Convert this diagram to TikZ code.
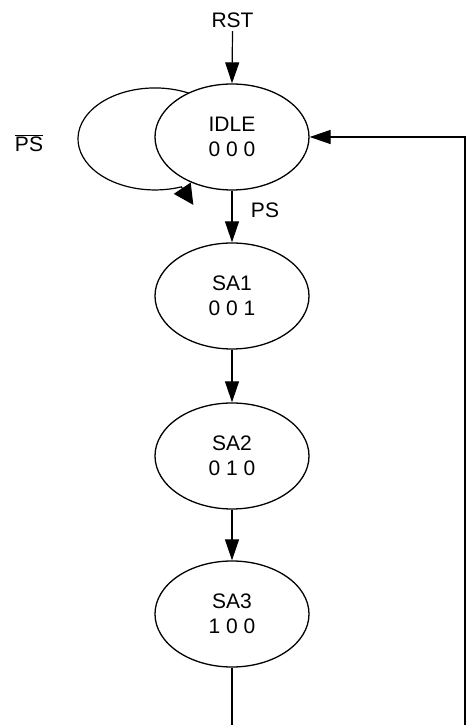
\documentclass[tikz,border=0pt]{standalone}
\usepackage{fontspec}
\setmainfont{Liberation Sans}
\usetikzlibrary{arrows.meta,shapes.geometric}
\begin{document}
\begin{tikzpicture}[x=1pt,y=1pt,
  state/.style={ellipse,draw,line width=1.3pt,minimum width=154pt,minimum height=106pt,
    inner sep=0pt,align=center,font=\fontsize{21}{25}\selectfont,fill=white},
  lbl/.style={font=\fontsize{21}{24}\selectfont,inner sep=3pt},
  conn/.style={line width=1.2pt},
  arr/.style={conn,-{Triangle[length=21pt,width=14pt]}}]
\useasboundingbox (0,0) rectangle (467,725);
% self loop (drawn first, hidden behind IDLE)
\coordinate (loopstart) at (193.5,630.2);
\draw[conn,-{Triangle[length=20pt,width=20pt]}] (loopstart) arc[start angle=60,end angle=290,x radius=77,y radius=51] -- ++(12,-18) coordinate (looptip);
% states
\node[state] (IDLE) at (232,588) {IDLE\\0 0 0};
\node[state] (SA1) at (232,429) {SA1\\0 0 1};
\node[state] (SA2) at (232,269) {SA2\\0 1 0};
\node[state] (SA3) at (232,111) {SA3\\1 0 0};
% labels
\node[lbl] (RST) at (232.5,704.5) {RST};
\node[lbl] (nps) at (29,582) {$\overline{\hbox{PS}}$};
\node[lbl] (ps) at (265,514.5) {PS};
% connectors
\draw[arr] (RST.south) -- (IDLE.north);
\draw[arr] (IDLE.south) -- (SA1.north);
\draw[arr] (SA1.south) -- (SA2.north);
\draw[arr] (SA2.south) -- (SA3.north);
\coordinate (sa3bot) at (232,0);
\coordinate (fbbot) at (465,0);
\draw[conn] (SA3.south) -- (sa3bot);
\draw[arr] (fbbot) |- (IDLE.east);
\end{tikzpicture}
\end{document}
